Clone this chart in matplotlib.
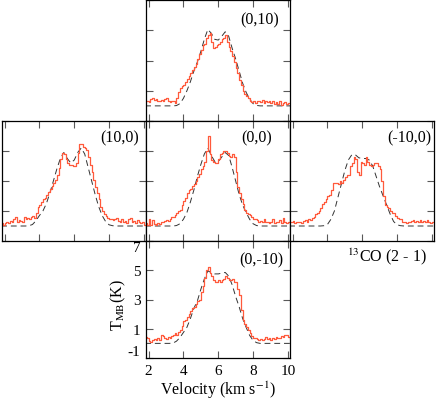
import numpy as np
import matplotlib.pyplot as plt

plt.rcParams['font.family'] = ['Liberation Serif', 'DejaVu Serif']
plt.rcParams['mathtext.fontset'] = 'stix'
plt.rcParams['axes.unicode_minus'] = False

# channel centres of the observed spectra (km/s)
vel = np.round(np.arange(1.85, 10.1, 0.1), 2)
# velocity grid of the model profiles (km/s)
vmod = np.round(np.arange(1.8, 10.3, 0.2), 1)

# observed 13CO (2-1) spectra, T_MB (K)
obs_n10 = [0.3, 0.3, 0.25, 0.45, 0.5, 0.4, 0.45, 0.35, 0.3, 0.4,
           0.35, 0.45, 0.5, 0.3, 0.25, 0.35, 0.3, 0.2, 0.5, 0.9,
           1.2, 1.3, 1.4, 1.6, 1.8, 2.0, 2.2, 2.4, 2.6, 2.8,
           3.1, 3.4, 3.7, 4.0, 4.1, 4.5, 4.7, 4.8, 4.2, 3.8,
           3.9, 4.0, 4.1, 4.2, 4.4, 4.5, 4.7, 4.2, 3.9, 3.6,
           3.3, 2.9, 2.5, 2.2, 1.7, 1.4, 1.0, 0.8, 0.65, 0.55,
           0.35, 0.25, 0.3, 0.2, 0.35, 0.3, 0.25, 0.4, 0.2, 0.3,
           0.25, 0.35, 0.2, 0.3, 0.15, 0.25, 0.1, 0.3, 0.05, 0.2,
           0.25, 0.1, 0.2]

obs_e10 = [0.2, 0.1, 0.2, 0.25, 0.2, 0.35, 0.3, 0.45, 0.6, 0.3,
           0.4, 0.35, 0.3, 0.6, 0.5, 0.55, 0.5, 0.6, 0.7, 0.55,
           0.9, 1.3, 1.4, 1.6, 1.8, 1.9, 2.1, 2.3, 2.5, 2.7,
           2.9, 3.1, 3.4, 3.9, 4.5, 4.9, 4.8, 4.5, 4.2, 4.1,
           4.1, 4.0, 4.0, 4.2, 4.9, 5.5, 5.5, 5.3, 5.2, 5.1,
           4.6, 4.1, 3.6, 3.1, 2.6, 2.2, 1.8, 1.3, 1.0, 0.8,
           0.65, 0.55, 0.5, 0.45, 0.4, 0.5, 0.55, 0.35, 0.3, 0.45,
           0.3, 0.35, 0.2, 0.45, 0.55, 0.3, 0.35, 0.2, 0.4, 0.3,
           0.2, 0.3, 0.1]

obs_c = [0.2, 0.1, 0.45, 0.1, 0.4, 0.15, 0.1, 0.2, 0.15, 0.25,
         0.3, 0.35, 0.4, 0.35, 0.5, 0.6, 0.6, 0.75, 0.9, 1.0,
         1.1, 1.4, 1.7, 1.9, 2.2, 2.4, 2.5, 2.7, 2.8, 3.0,
         3.3, 3.5, 3.8, 4.0, 4.3, 5.0, 6.0, 4.8, 4.4, 4.3,
         4.2, 4.2, 4.5, 4.8, 4.9, 5.0, 5.0, 4.9, 4.7, 4.6,
         4.8, 4.6, 3.6, 2.6, 2.2, 1.8, 1.5, 1.1, 0.9, 0.8,
         0.75, 0.6, 0.5, 0.45, 0.4, 0.3, 0.35, 0.25, 0.5, 0.3,
         0.3, 0.2, 0.3, 0.5, 0.2, 0.3, 0.25, 0.4, 0.2, 0.55,
         0.3, 0.2, 0.3]

obs_w10 = [0.3, 0.25, 0.35, 0.2, 0.3, 0.25, 0.3, 0.2, 0.35, 0.4,
           0.3, 0.45, 0.4, 0.55, 0.6, 0.8, 0.85, 1.0, 1.2, 1.5,
           1.6, 1.8, 2.0, 2.1, 2.4, 2.9, 2.9, 2.85, 2.8, 3.0,
           2.9, 3.1, 3.3, 3.4, 3.4, 4.0, 4.2, 4.6, 4.5, 3.6,
           3.4, 4.3, 4.2, 4.1, 4.6, 4.3, 4.1, 4.0, 4.1, 4.2,
           4.2, 4.0, 3.8, 3.0, 2.0, 1.4, 1.3, 1.2, 1.0, 0.9,
           0.85, 0.7, 0.55, 0.5, 0.45, 0.3, 0.25, 0.2, 0.25, 0.3,
           0.35, 0.4, 0.3, 0.35, 0.25, 0.4, 0.3, 0.35, 0.25, 0.4,
           0.3, 0.2, 0.3]

obs_s10 = [0.45, 0.4, 0.15, 0.1, 0.2, 0.3, 0.2, 0.35, 0.2, 0.55,
           0.5, 0.4, 0.3, 0.45, 0.35, 0.5, 0.6, 0.7, 0.6, 0.8,
           0.9, 1.2, 1.5, 1.6, 1.8, 2.0, 2.2, 2.4, 2.5, 2.7,
           2.9, 3.0, 3.5, 3.9, 4.5, 5.0, 5.2, 4.8, 4.6, 4.3,
           4.2, 4.2, 4.3, 4.2, 4.3, 4.4, 4.6, 4.5, 4.3, 4.3,
           4.4, 4.2, 4.2, 3.7, 3.3, 2.3, 1.6, 1.3, 1.1, 0.9,
           0.7, 0.5, 0.4, 0.35, 0.3, 0.25, 0.3, 0.2, 0.3, 0.45,
           0.3, 0.35, 0.25, 0.4, 0.3, 0.45, 0.35, 0.4, 0.5, 0.45,
           0.55, 0.6, 0.45]

# model profiles (dashed)
mod_n10 = [0, 0, 0, 0, 0, 0, 0, 0, 0,
           0.02, 0.15, 0.5, 1.0, 1.6, 2.3, 2.9, 3.6, 4.4, 5.05,
           4.8, 4.4, 4.35, 4.6, 4.9, 4.6, 3.8, 3.1, 2.3, 1.5,
           0.9, 0.45, 0.15, 0.03,
           0, 0, 0, 0, 0, 0, 0, 0, 0, 0]

mod_e10 = [0, 0, 0, 0, 0, 0, 0, 0,
           0.02, 0.1, 0.35, 0.7, 1.0, 1.5, 2.2, 3.0, 3.8, 4.5,
           4.9, 4.5, 4.2, 4.4, 4.9, 5.2, 4.8, 3.9, 3.0, 2.1,
           1.3, 0.7, 0.3, 0.08, 0.02,
           0, 0, 0, 0, 0, 0, 0, 0, 0, 0]

mod_c = [0, 0, 0, 0, 0, 0, 0, 0, 0,
         0.03, 0.15, 0.45, 0.9, 1.6, 2.4, 3.3, 4.1, 4.8, 5.2,
         4.7, 4.3, 4.3, 4.6, 4.9, 4.7, 3.9, 3.0, 2.1, 1.4,
         0.9, 0.45, 0.15, 0.03,
         0, 0, 0, 0, 0, 0, 0, 0, 0, 0]

mod_w10 = [0, 0, 0, 0, 0, 0, 0, 0, 0, 0,
           0.02, 0.1, 0.45, 1.0, 1.9, 2.8, 3.7, 4.4, 4.75, 4.75,
           4.55, 4.5, 4.5, 4.4, 4.0, 3.3, 2.6, 2.0, 1.4, 0.8,
           0.3, 0.08, 0.02,
           0, 0, 0, 0, 0, 0, 0, 0, 0, 0]

mod_s10 = [0, 0, 0, 0, 0, 0, 0, 0,
           0.02, 0.15, 0.4, 0.75, 1.1, 1.7, 2.4, 2.9, 3.7, 4.4,
           4.95, 4.85, 4.75, 4.75, 4.8, 4.85, 4.6, 4.0, 3.2, 2.5,
           1.7, 1.1, 0.55, 0.2, 0.05,
           0, 0, 0, 0, 0, 0, 0, 0, 0, 0]

labels = ['(0,10)', '(10,0)', '(0,0)', '(-10,0)', '(0,-10)']
xticks = [2, 4, 6, 8, 10]
yticks = [-1, 1, 3, 5, 7]

W, H = 436, 402
fig = plt.figure(figsize=(W / 100, H / 100), dpi=100)

# panel boxes in pixels: left, top, right, bottom
boxes = [(146, 1, 290, 122), (2, 122, 146, 242), (146, 122, 290, 242),
         (290, 122, 434, 242), (146, 242, 290, 359)]
# label centre positions (axes fraction)
lab_pos = [(0.79, 0.84), (0.82, 0.86), (0.77, 0.86), (0.83, 0.86), (0.80, 0.84)]

obs = [obs_n10, obs_e10, obs_c, obs_w10, obs_s10]
mods = [mod_n10, mod_e10, mod_c, mod_w10, mod_s10]

red = '#ff5a3c'

for i, (l, t, r, b) in enumerate(boxes):
    ax = fig.add_axes([l / W, 1 - b / H, (r - l) / W, (b - t) / H])
    ax.plot(vmod, mods[i], color='0.2', lw=0.7, ls=(0, (6, 4)))
    ax.step(vel, obs[i], where='mid', color=red, lw=0.9)
    ax.set_xlim(1.85, 10.12)
    ax.set_ylim(-1, 7)
    ax.set_xticks(xticks)
    ax.set_yticks(yticks)
    last = i == 4
    ax.tick_params(direction='in', top=True, right=True, length=5, width=0.8,
                   color='0.35', labelbottom=last, labelleft=last,
                   labelsize=11)
    ax.tick_params(axis='x', pad=4)
    ax.tick_params(axis='y', pad=4)
    for s in ax.spines.values():
        s.set_linewidth(0.9)
    ax.text(*lab_pos[i], labels[i], transform=ax.transAxes,
            ha='center', va='center', fontsize=11.5)
    if last:
        yt = ax.yaxis.get_major_ticks()
        yt[0].label1.set_va('bottom')
        yt[-1].label1.set_va('top')

fig.text(118 / W, 1 - 305 / H, r'T$_{\rm MB}$(K)', rotation=90,
         ha='center', va='center', fontsize=11.5)
fig.text(218 / W, 1 - 390 / H, r'Velocity (km s$^{-1}$)',
         ha='center', va='center', fontsize=11.5)
fig.text(387 / W, 1 - 257 / H, r'$^{13}$CO (2 - 1)',
         ha='center', va='center', fontsize=11.5)

fig.savefig('out.png', dpi=100)
